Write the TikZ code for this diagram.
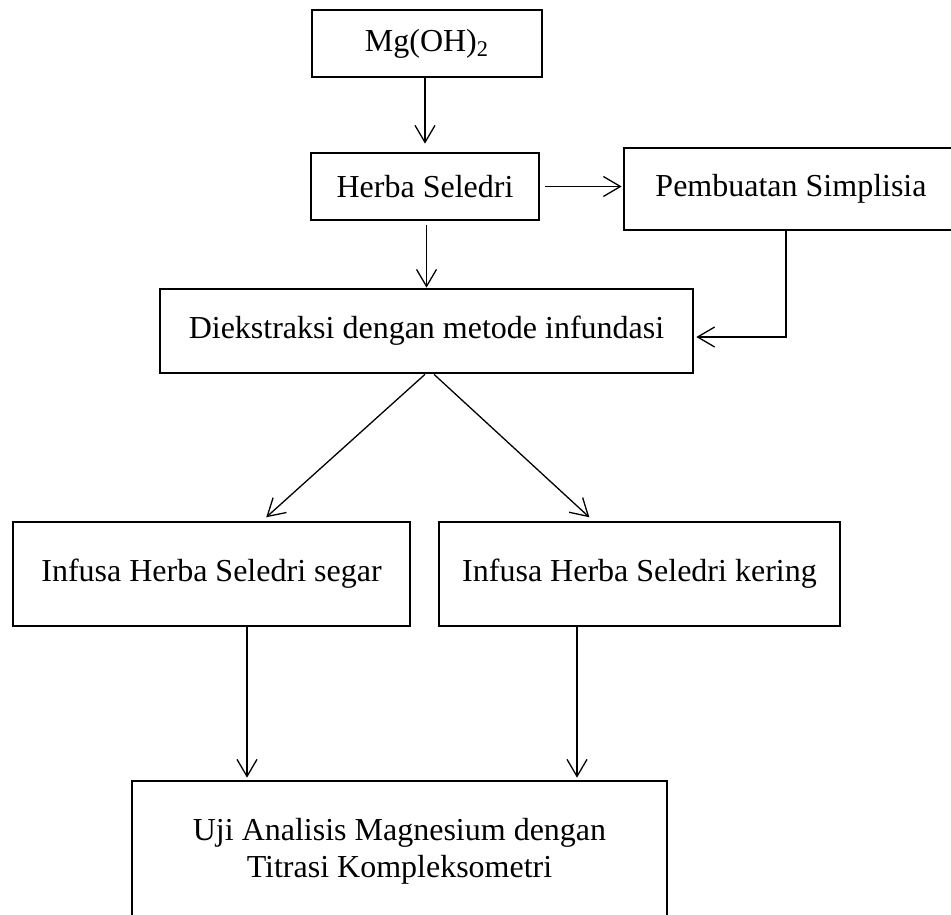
\documentclass[tikz,border=0pt]{standalone}
\usepackage{fontspec}
\setmainfont{Liberation Serif}
\usetikzlibrary{arrows.meta,positioning}

\begin{document}
\begin{tikzpicture}[
    x=0.5pt, y=-0.5pt,
    box/.style={draw, line width=1.35pt, inner sep=0pt, align=center, font=\fontsize{16}{18.5}\selectfont},
    flow/.style={->, line width=0.65pt, >={Straight Barb[length=8.5pt, width=10pt]}}]
    \clip (0,0) rectangle (951,914);
    \node[box, minimum width=115pt, minimum height=33.5pt] (mg) at (427,43.5) {Mg(OH)\textsubscript{2}};
    \node[box, minimum width=114pt, minimum height=33.5pt] (herba) at (425,186.5) {Herba Seledri};
    \node[box, minimum width=167pt, minimum height=41pt] (pemb) at (791,189) {Pembuatan Simplisia};
    \node[box, minimum width=266.5pt, minimum height=42pt] (dieks) at (426.5,331) {Diekstraksi dengan metode infundasi};
    \node[box, minimum width=198.5pt, minimum height=52pt] (segar) at (211.5,574) {Infusa Herba Seledri segar};
    \node[box, minimum width=200.5pt, minimum height=52pt] (kering) at (639.5,574) {Infusa Herba Seledri kering};
    \node[box, minimum width=267.5pt, minimum height=70pt] (uji) at (399.5,851) {Uji Analisis Magnesium dengan\\Titrasi Kompleksometri};
    \coordinate (s1) at ([xshift=17.75pt]segar.south);
    \coordinate (k1) at ([xshift=-31.25pt]kering.south);
    \draw[flow, shorten >=4pt] (herba.north |- mg.south) -- (herba.north);
    \draw[flow, shorten <=2.5pt, shorten >=0.5pt] (herba.east) -- (herba.east -| pemb.west);
    \draw[flow, shorten <=2pt] (dieks.north |- herba.south) -- (dieks.north);
    \draw[flow, shorten >=1pt] ([xshift=-2.5pt]pemb.south) |- ([yshift=-3pt]dieks.east);
    \draw[flow, shorten >=2.5pt] ([xshift=-0.75pt]dieks.south) -- ([xshift=25.5pt]segar.north);
    \draw[flow, shorten >=2.5pt] ([xshift=3.75pt]dieks.south) -- ([xshift=-23.25pt]kering.north);
    \draw[flow, shorten >=1pt] (s1) -- (s1 |- uji.north);
    \draw[flow, shorten >=1pt] (k1) -- (k1 |- uji.north);
\end{tikzpicture}
\end{document}
